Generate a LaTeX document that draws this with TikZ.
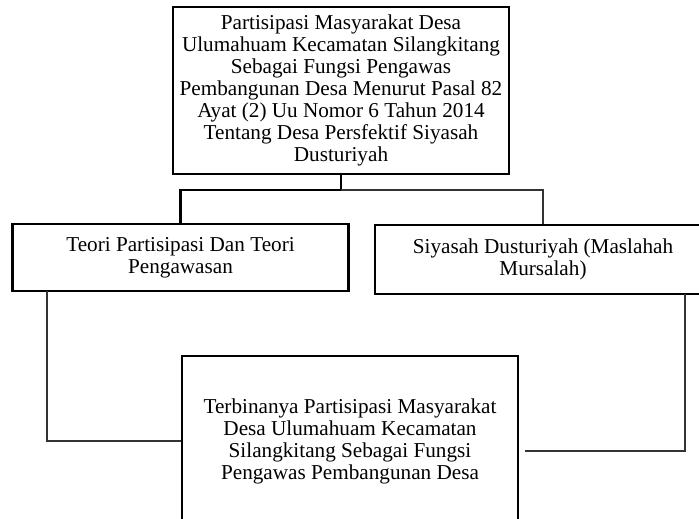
\documentclass[tikz,border=0pt]{standalone}
\usepackage{fontspec}
\setmainfont{Liberation Serif}
\begin{document}
\begin{tikzpicture}[x=1pt,y=-1pt, line join=miter,
	kotak/.style={draw, line width=2.6pt, minimum width=336, inner sep=0pt, align=center, font=\fontsize{21.2}{22}\selectfont},
	tebal/.style={line width=2.6pt},
	tipis/.style={line width=1.4pt, black!80}] %Kerangka berpikir
	\useasboundingbox (0,0) rectangle (699,519);
	\clip (0,0) rectangle (699,519);
	\node[kotak, minimum height=167] (judul) at (341,90.5) {Partisipasi Masyarakat Desa\\Ulumahuam Kecamatan Silangkitang\\Sebagai Fungsi Pengawas\\Pembangunan Desa Menurut Pasal 82\\Ayat (2) Uu Nomor 6 Tahun 2014\\Tentang Desa Persfektif Siyasah\\Dusturiyah};
	\node[kotak, minimum height=67] (teori) at (180.5,257.5) {Teori Partisipasi Dan Teori\\Pengawasan};
	\node[kotak, minimum height=69] (siyasah) at (543,259.5) {Siyasah Dusturiyah (Maslahah\\Mursalah)};
	\node[kotak, minimum height=170] (hasil) at (350,441) {Terbinanya Partisipasi Masyarakat\\Desa Ulumahuam Kecamatan\\Silangkitang Sebagai Fungsi\\Pengawas Pembangunan Desa};
	\coordinate (cabang) at (341,190);
	\coordinate (kiri) at (47,291);
	\coordinate (kanan) at (685,294);
	\coordinate (ujung) at (525,451);
	\draw[tebal] (judul.south) -- (cabang) -| (teori.north);
	\draw[tipis] (cabang) -| (siyasah.north);
	\draw[tipis] (kiri) |- (hasil.west);
	\draw[tipis] (kanan) |- (ujung);
\end{tikzpicture}
\end{document}
